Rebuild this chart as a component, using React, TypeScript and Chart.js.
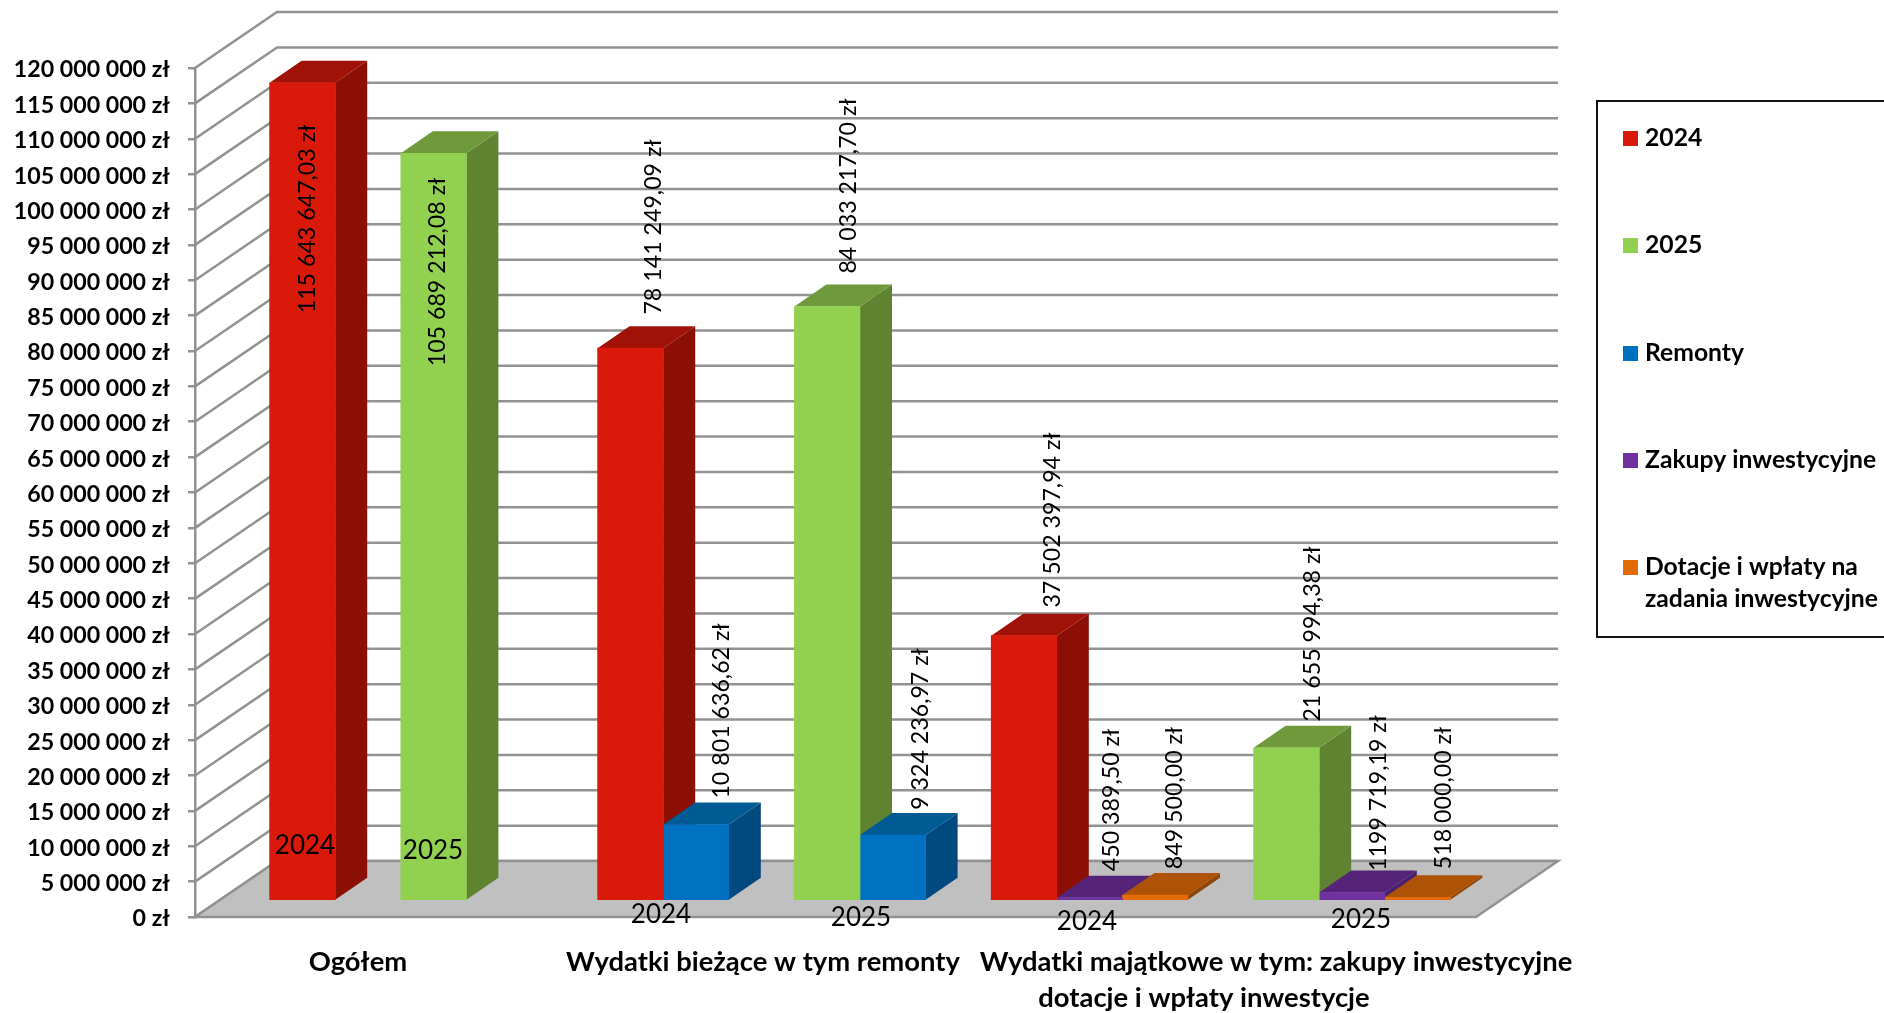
import React, { useEffect, useRef } from "react";
import { Chart, registerables } from "chart.js";

Chart.register(...registerables);

// ---------- data ----------
const slotLabels = ["", "2024", "", "2025", "", "", "2024", "Remonty", "", "2025", "Remonty", "", "2024", "Zakupy", "Dotacje", "", "2025", "Zakupy", "Dotacje", ""];
const series2024 = [null, 115643647.03, null, null, null, null, 78141249.09, null, null, null, null, null, 37502397.94, null, null, null, null, null, null, null];
const series2025 = [null, null, null, 105689212.08, null, null, null, null, null, 84033217.7, null, null, null, null, null, null, 21655994.38, null, null, null];
const seriesRemonty = [null, null, null, null, null, null, null, 10801636.62, null, null, 9324236.97, null, null, null, null, null, null, null, null, null];
const seriesZakupy = [null, null, null, null, null, null, null, null, null, null, null, null, null, 450389.5, null, null, null, 1199719.19, null, null];
const seriesDotacje = [null, null, null, null, null, null, null, null, null, null, null, null, null, null, 849500, null, null, null, 518000, null];
const seriesNames = ["2024", "2025", "Remonty", "Zakupy inwestycyjne", "Dotacje i wpłaty na|zadania inwestycyjne"];
const groupLabels = ["Ogółem", "Wydatki bieżące w tym remonty", "Wydatki majątkowe w tym: zakupy inwestycyjne", "dotacje i wpłaty inwestycje"];
const yearLabels = ["2024", "2025", "2024", "2025", "2024", "2025"];
const valueLabels: Record<number, string> = {
  1: "115 643 647,03 zł", 3: "105 689 212,08 zł", 6: "78 141 249,09 zł", 7: "10 801 636,62 zł",
  9: "84 033 217,70 zł", 10: "9 324 236,97 zł", 12: "37 502 397,94 zł", 13: "450 389,50 zł",
  14: "849 500,00 zł", 16: "21 655 994,38 zł", 17: "1199 719,19 zł", 18: "518 000,00 zł",
};

// ---------- styles ----------
const frontColors = ["#D9190A", "#92D14F", "#0070C0", "#7030A0", "#E36C09"];
const topColors = ["#A01108", "#6F9A3B", "#005A94", "#552479", "#AE5206"];
const sideColors = ["#8B0F05", "#5F8331", "#004A80", "#4A1F6E", "#8F4505"];
const GRID = "#929292";
const FLOOR = "#C0C0C0";

// ---------- layout ----------
const AXIS_LEFT = 195;
const AXIS_TOP = 68;
const AXIS_BOTTOM = 917;
const SLOT = 65.6;
const FLOOR_WIDTH = 1281;
const WALL_DX = 82;
const WALL_DY = -56;
const BAR_SHIFT_X = 9;
const BAR_SHIFT_Y = -16;
const BAR_DEPTH_X = 32;
const BAR_DEPTH_Y = -22;
const yearPlaces = [[305, 846], [433, 851], [661, 915], [861, 918], [1087, 922], [1361, 920]];
const groupPlaces = [[358, 962], [763, 962], [1276, 962], [1204, 998]];
// centre of each rotated value label, by slot
const valuePlaces: Record<number, [number, number]> = {
  1: [307.5, 219], 3: [437.5, 272], 6: [653.5, 227], 7: [722, 711], 9: [848.5, 186], 10: [920.5, 729],
  12: [1053, 520], 13: [1112, 800], 14: [1175, 798], 16: [1313, 634], 17: [1379, 793], 18: [1444, 798],
};
const legendBox = { x: 1597, y: 101, bottom: 637 };
const legendRows = [146, 253, 361, 468, 575];

const group3 = (n: number) => String(n).replace(/\B(?=(\d{3})+$)/g, " ");

function quad(ctx: CanvasRenderingContext2D, pts: number[][], fill: string) {
  ctx.beginPath();
  pts.forEach(([x, y], i) => (i ? ctx.lineTo(x, y) : ctx.moveTo(x, y)));
  ctx.closePath();
  ctx.fillStyle = fill;
  ctx.fill();
}

function bars(chart: any) {
  const out: any[] = [];
  chart.getSortedVisibleDatasetMetas().forEach((meta: any) => {
    meta.data.forEach((el: any, slot: number) => {
      const v = chart.data.datasets[meta.index].data[slot];
      if (v == null) return;
      const p = el.getProps(["x", "y", "base", "width"], true);
      out.push({ ...p, slot, v, series: meta.index });
    });
  });
  return out.sort((a, b) => a.slot - b.slot);
}

const scene3d = {
  id: "scene3d",
  beforeDatasetsDraw(chart: any) {
    const { ctx, scales } = chart;
    const y = scales.y;
    ctx.save();
    // walls
    ctx.strokeStyle = GRID;
    ctx.lineWidth = 2.5;
    y.ticks.forEach((t: any) => {
      const py = y.getPixelForValue(t.value);
      ctx.beginPath();
      ctx.moveTo(AXIS_LEFT, py);
      ctx.lineTo(AXIS_LEFT + WALL_DX, py + WALL_DY);
      ctx.lineTo(AXIS_LEFT + WALL_DX + FLOOR_WIDTH, py + WALL_DY);
      ctx.stroke();
    });
    // floor
    const y0 = y.getPixelForValue(0);
    const floor = [
      [AXIS_LEFT, y0],
      [AXIS_LEFT + FLOOR_WIDTH, y0],
      [AXIS_LEFT + FLOOR_WIDTH + WALL_DX, y0 + WALL_DY],
      [AXIS_LEFT + WALL_DX, y0 + WALL_DY],
    ];
    quad(ctx, floor, FLOOR);
    ctx.stroke();
    // prism sides and tops, left to right
    ctx.translate(BAR_SHIFT_X, BAR_SHIFT_Y);
    bars(chart).forEach((b) => {
      const l = b.x - b.width / 2;
      const r = b.x + b.width / 2;
      quad(ctx, [[r, b.y], [r, b.base], [r + BAR_DEPTH_X, b.base + BAR_DEPTH_Y], [r + BAR_DEPTH_X, b.y + BAR_DEPTH_Y]], sideColors[b.series]);
      quad(ctx, [[l, b.y], [r, b.y], [r + BAR_DEPTH_X, b.y + BAR_DEPTH_Y], [l + BAR_DEPTH_X, b.y + BAR_DEPTH_Y]], topColors[b.series]);
    });
    // the fronts are the library's own bars, drawn in this shifted frame
  },
  afterDatasetsDraw(chart: any) {
    const { ctx } = chart;
    ctx.restore();
    ctx.save();
    ctx.fillStyle = "#000";
    ctx.textBaseline = "middle";
    ctx.textAlign = "center";

    // value labels
    ctx.font = "23.2px Lato";
    bars(chart).forEach((b) => {
      const place = valuePlaces[b.slot];
      ctx.save();
      ctx.translate(place[0], place[1]);
      ctx.rotate(-Math.PI / 2);
      ctx.fillText(valueLabels[b.slot], 0, 0);
      ctx.restore();
    });

    // year labels
    ctx.font = "26px Lato";
    yearLabels.forEach((t, i) => ctx.fillText(t, yearPlaces[i][0], yearPlaces[i][1]));

    // group labels
    ctx.font = "bold 27.4px Lato";
    groupLabels.forEach((t, i) => ctx.fillText(t, groupPlaces[i][0], groupPlaces[i][1]));

    // legend
    ctx.font = "bold 24.7px Lato";
    ctx.strokeStyle = "#111";
    ctx.lineWidth = 2;
    ctx.strokeRect(legendBox.x, legendBox.y, 400, legendBox.bottom - legendBox.y);
    ctx.textAlign = "left";
    ctx.textBaseline = "alphabetic";
    seriesNames.forEach((name, i) => {
      ctx.fillStyle = frontColors[i];
      ctx.fillRect(1623, legendRows[i] - 15, 15, 15);
      ctx.fillStyle = "#000";
      name.split("|").forEach((line, k) => ctx.fillText(line, 1645, legendRows[i] + k * 32));
    });
    ctx.restore();
  },
};

export default function App() {
  const ref = useRef<HTMLCanvasElement>(null);
  useEffect(() => {
    const all = [series2024, series2025, seriesRemonty, seriesZakupy, seriesDotacje];
    const chart = new Chart(ref.current!, {
      type: "bar",
      data: {
        labels: slotLabels,
        datasets: all.map((data, i) => ({
          label: seriesNames[i].replace("|", " "),
          data,
          backgroundColor: frontColors[i],
          borderWidth: 0,
          grouped: false,
          barPercentage: 1,
          categoryPercentage: 1,
          clip: false,
        })) as any,
      },
      options: {
        responsive: false,
        animation: false,
        layout: {
          padding: { left: 0, top: AXIS_TOP, right: 1884 - AXIS_LEFT - SLOT * slotLabels.length, bottom: 1013 - AXIS_BOTTOM },
        },
        plugins: { legend: { display: false }, tooltip: { enabled: false } },
        scales: {
          x: { display: false, offset: true },
          y: {
            min: 0,
            max: 120000000,
            afterFit: (s: any) => {
              s.width = AXIS_LEFT;
            },
            border: { color: GRID, width: 2.5 },
            grid: { drawOnChartArea: false, drawTicks: true, tickLength: 7, tickColor: GRID, lineWidth: 2.5 },
            ticks: {
              stepSize: 5000000,
              autoSkip: false,
              padding: 18,
              color: "#000",
              // a blank first line with a 4px line height sets the text 2px lower, as in the reference
              font: { family: "Lato", weight: "bold", size: 23.2, lineHeight: "4px" },
              callback: (v: any) => ["", `${group3(Number(v))} zł`],
            },
          },
        },
      },
      plugins: [scene3d],
    } as any);
    return () => chart.destroy();
  }, []);
  return (
    <div style={{ position: "fixed", inset: 0, background: "#fff" }}>
      <canvas ref={ref} width={1884} height={1013} style={{ display: "block" }} />
    </div>
  );
}
